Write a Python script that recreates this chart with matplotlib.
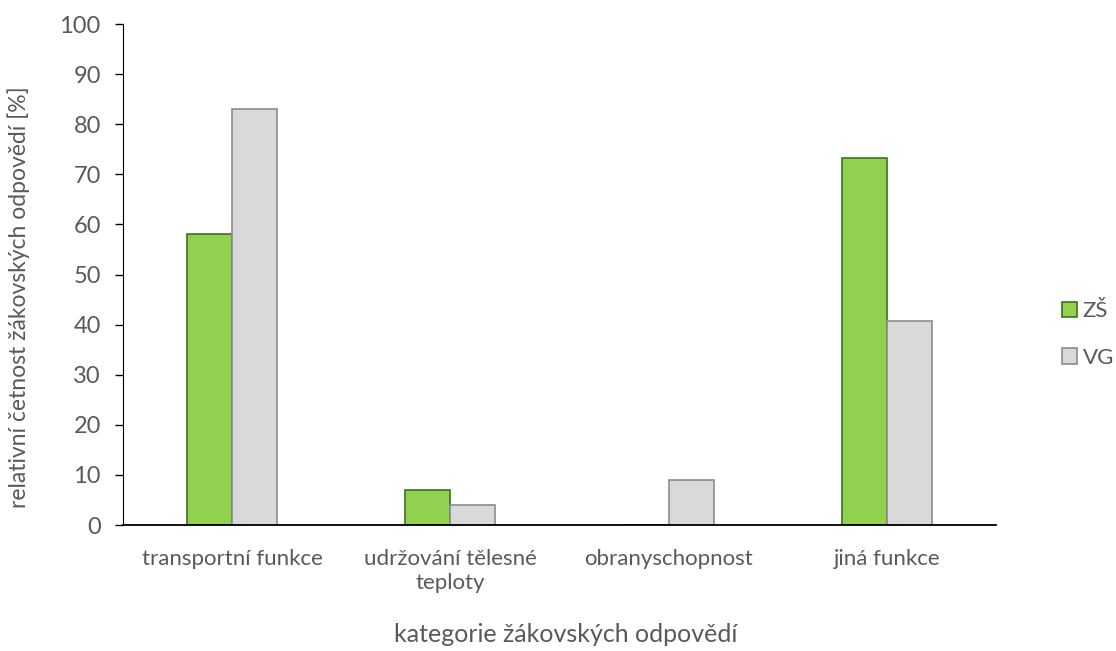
import numpy as np
import matplotlib.pyplot as plt

categories = ["transportní funkce", "udržování tělesné\nteploty", "obranyschopnost", "jiná funkce"]
zs_values = [58.0, 7.0, 0.0, 73.3]
vg_values = [83.0, 4.0, 9.0, 40.7]

plt.rcParams["font.family"] = ["Lato", "DejaVu Sans"]
TEXT = "#595959"

fig = plt.figure(figsize=(11.16, 6.51), dpi=100)
ax = fig.add_axes([0.1102, 0.1935, 0.7823, 0.7696])

x = np.arange(len(categories))
w = 0.206
ax.bar(x - w / 2, zs_values, w, color="#92D050", edgecolor="#3F6F22", linewidth=1.2, label="ZŠ")
ax.bar(x + w / 2, vg_values, w, color="#D9D9D9", edgecolor="#8C8C8C", linewidth=1.2, label="VG")

ax.set_xlim(-0.5, len(categories) - 0.5)
ax.set_ylim(0, 100)
ax.set_yticks(range(0, 101, 10))
ax.set_xticks(x)
ax.set_xticklabels(categories, fontsize=16, color=TEXT, linespacing=1.25)
ax.tick_params(axis="x", length=0, pad=17)
ax.tick_params(axis="y", direction="out", length=6, width=1, color="black", labelsize=17, labelcolor=TEXT, pad=10)

for s in ["top", "right"]:
    ax.spines[s].set_visible(False)
ax.spines["left"].set_color("black")
ax.spines["bottom"].set_color("black")
ax.spines["bottom"].set_linewidth(1.3)

ax.set_ylabel("relativní četnost žákovských odpovědí [%]", fontsize=16.5, color=TEXT)
ax.yaxis.set_label_coords(-0.107, 0.455)
ax.set_xlabel("kategorie žákovských odpovědí", fontsize=18, color=TEXT)
ax.xaxis.set_label_coords(0.507, -0.195)

leg = ax.legend(loc="center left", bbox_to_anchor=(1.075, 0.38), frameon=False, fontsize=16,
                handlelength=0.7, handleheight=0.7, handletextpad=0.25, labelspacing=1.2,
                borderaxespad=0, borderpad=0)
for t in leg.get_texts():
    t.set_color(TEXT)

fig.savefig("out.png", dpi=100)
